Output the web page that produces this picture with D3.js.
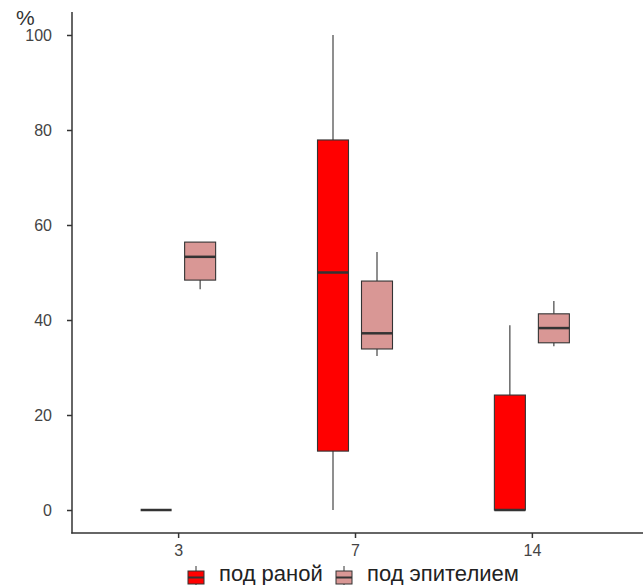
<!DOCTYPE html>
<html lang="en">
<head>
<meta charset="utf-8">
<title>boxplot</title>
<script src="https://d3js.org/d3.v7.min.js"></script>
<style>
  body { margin: 0; background: #fff; }
  text { font-family: "Liberation Sans", Arial, sans-serif; }
</style>
</head>
<body>
<svg width="643" height="585"></svg>
<script>
// days on x axis
var days = ["3", "7", "14"];
var groups = ["под раной", "под эпителием"];
var colors = ["#ff0000", "#d99795"];
// box stats per group: [min, q1, median, q3, max]
var underWound = [
  [0, 0, 0, 0, 0],
  [0, 12.4, 50, 77.9, 100],
  [0, 0, 0, 24.2, 38.9]
];
var underEpith = [
  [46.5, 48.4, 53.3, 56.4, 56.4],
  [32.4, 33.9, 37.2, 48.2, 54.3],
  [34.5, 35.2, 38.3, 41.3, 44]
];
var yTicks = [0, 20, 40, 60, 80, 100];

var svg = d3.select("svg");
var mLeft = 72, mRight = 638, mTop = 12, mBottom = 533;

var x = d3.scalePoint().domain(days).range([mLeft, mRight]).padding(0.6);
var y = d3.scaleLinear().domain([-4.84, 104.84]).range([mBottom, mTop]);
var off = 22, bw = 31;

// boxes
var series = [underWound, underEpith];
series.forEach(function(stats, gi) {
  var g = svg.append("g");
  stats.forEach(function(s, i) {
    var cx = x(days[i]) + (gi === 0 ? -off : off);
    // whiskers
    g.append("line").attr("x1", cx).attr("x2", cx)
      .attr("y1", y(s[0])).attr("y2", y(s[1]))
      .attr("stroke", "#333").attr("stroke-width", 1.1);
    g.append("line").attr("x1", cx).attr("x2", cx)
      .attr("y1", y(s[3])).attr("y2", y(s[4]))
      .attr("stroke", "#333").attr("stroke-width", 1.1);
    g.append("rect")
      .attr("x", cx - bw / 2).attr("width", bw)
      .attr("y", y(s[3])).attr("height", y(s[1]) - y(s[3]))
      .attr("fill", colors[gi]).attr("stroke", "#333").attr("stroke-width", 1.1);
    g.append("line").attr("x1", cx - bw / 2).attr("x2", cx + bw / 2)
      .attr("y1", y(s[2])).attr("y2", y(s[2]))
      .attr("stroke", "#333").attr("stroke-width", 2.5);
  });
});

// y axis
var yAxis = svg.append("g").attr("transform", "translate(" + mLeft + ",0)")
  .call(d3.axisLeft(y).tickValues(yTicks).tickSize(5).tickPadding(15));
yAxis.select(".domain").remove();
yAxis.append("line").attr("x1", 0).attr("x2", 0).attr("y1", mTop).attr("y2", mBottom + 0.5)
  .attr("stroke", "#333").attr("stroke-width", 1.5);
yAxis.selectAll(".tick line").attr("stroke", "#333").attr("stroke-width", 1.5);
yAxis.selectAll(".tick text").attr("fill", "#444").style("font-size", "16px")
  .style("font-family", "Liberation Sans, Arial, sans-serif");

// x axis
var xAxis = svg.append("g").attr("transform", "translate(0," + mBottom + ")")
  .call(d3.axisBottom(x).tickSize(5).tickPadding(7));
xAxis.select(".domain").remove();
xAxis.append("line").attr("x1", mLeft - 0.75).attr("x2", 643).attr("y1", 0).attr("y2", 0)
  .attr("stroke", "#333").attr("stroke-width", 1.5);
xAxis.selectAll(".tick line").attr("stroke", "#333").attr("stroke-width", 1.5);
xAxis.selectAll(".tick text").attr("fill", "#444").style("font-size", "16px")
  .style("font-family", "Liberation Sans, Arial, sans-serif");

// y label
svg.append("text").attr("x", 16).attr("y", 25).text("%")
  .attr("fill", "#333").style("font-size", "21px");

// legend
var legX = [187, 335];
groups.forEach(function(name, gi) {
  var lg = svg.append("g").attr("transform", "translate(" + legX[gi] + ",566)");
  lg.append("line").attr("x1", 9).attr("x2", 9).attr("y1", 0).attr("y2", 22)
    .attr("stroke", "#333").attr("stroke-width", 1);
  lg.append("rect").attr("x", 1).attr("y", 5).attr("width", 16).attr("height", 13)
    .attr("fill", colors[gi]).attr("stroke", "#333").attr("stroke-width", 1);
  lg.append("line").attr("x1", 1).attr("x2", 17).attr("y1", 11.5).attr("y2", 11.5)
    .attr("stroke", "#333").attr("stroke-width", 2);
  lg.append("text").attr("x", 32).attr("y", 15).text(name)
    .attr("fill", "#222").style("font-size", "22px");
});
</script>
</body>
</html>
